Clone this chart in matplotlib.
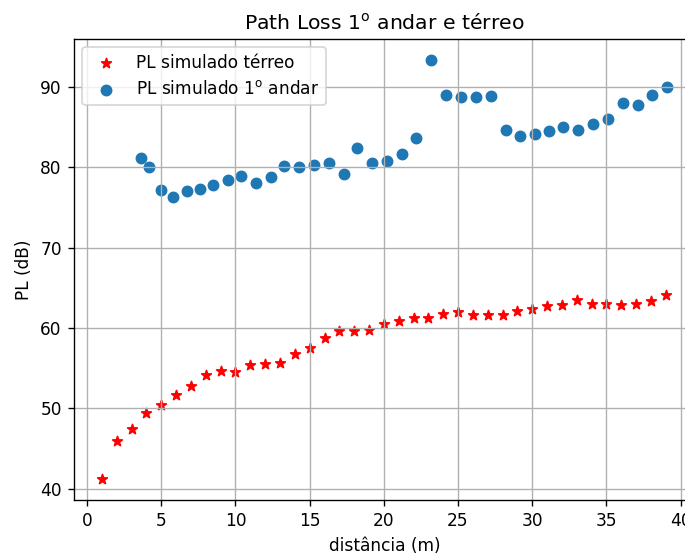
import numpy as np
import matplotlib
matplotlib.use("Agg")
import matplotlib.pyplot as plt

# ground floor (térreo): distance in metres, simulated path loss in dB
D_TERREO = list(range(1, 40))
PL_TERREO = [41.2, 45.9, 47.4, 49.4, 50.4, 51.7, 52.8, 54.1, 54.6, 54.5,
             55.4, 55.5, 55.7, 56.8, 57.5, 58.7, 59.6, 59.6, 59.7, 60.5,
             60.9, 61.2, 61.2, 61.8, 62.0, 61.6, 61.6, 61.6, 62.1, 62.3,
             62.7, 62.8, 63.5, 63.0, 63.0, 62.8, 63.0, 63.3, 64.1]

# first floor (1º andar)
D_ANDAR = [3.6, 4.2, 5.0, 5.8, 6.7, 7.6, 8.5, 9.5, 10.4, 11.4,
           12.4, 13.3, 14.3, 15.3, 16.3, 17.3, 18.2, 19.2, 20.2, 21.2,
           22.2, 23.2, 24.2, 25.2, 26.2, 27.2, 28.2, 29.2, 30.2, 31.1,
           32.1, 33.1, 34.1, 35.1, 36.1, 37.1, 38.1, 39.1]
PL_ANDAR = [81.2, 80.0, 77.2, 76.3, 77.0, 77.3, 77.8, 78.4, 78.9, 78.0,
            78.8, 80.1, 80.0, 80.3, 80.5, 79.2, 82.4, 80.5, 80.8, 81.7,
            83.7, 93.4, 89.0, 88.7, 88.7, 88.9, 84.6, 83.9, 84.2, 84.5,
            85.0, 84.7, 85.4, 86.0, 88.0, 87.8, 89.0, 90.0]

DPI = 122
fig = plt.figure(figsize=(685 / DPI, 554 / DPI), dpi=DPI)
# axes run past the right edge of the canvas, as in the cropped original
ax = fig.add_axes([0.1076, 0.0975, 0.9077, 0.8327])

ax.scatter(D_TERREO, PL_TERREO, marker="*", color="red",
           label="PL simulado térreo")
ax.scatter(D_ANDAR, PL_ANDAR, label=r"PL simulado 1$^{\mathrm{o}}$ andar")
ax.set_title(r"Path Loss 1$^{\mathrm{o}}$ andar e térreo")
ax.set_xlabel("distância (m)")
ax.set_ylabel("PL (dB)")
ax.grid(True)
ax.legend(loc="upper left")

fig.savefig("out.png", dpi=DPI)
